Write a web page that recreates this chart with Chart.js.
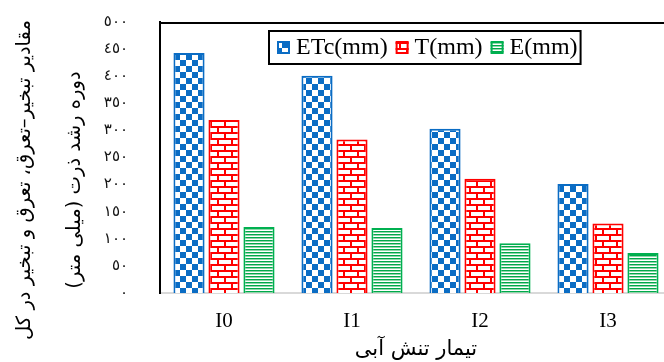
<!DOCTYPE html>
<html lang="fa">

<head>
    <meta charset="UTF-8">
    <title>ETc T E</title>
    <script src="https://cdn.jsdelivr.net/npm/chart.js"></script>
    <style>
        html, body { margin: 0; padding: 0; background: #fff; overflow: hidden; }
        #quadro { width: 664px; height: 362px; overflow: hidden; }
    </style>
</head>

<body>
    <div id="quadro">
        <canvas id="grafico" width="672" height="362"></canvas>
    </div>
</body>

</html>
<script>

    var tratamentos = ['I0', 'I1', 'I2', 'I3']
    var etc = [443, 401, 303, 201]     // ETc(mm)
    var transp = [319, 283, 211, 128]  // T(mm)
    var evap = [122, 120, 92, 74]      // E(mm)
    var nomesSeries = ['ETc(mm)', 'T(mm)', 'E(mm)']

    var yTicks = [0, 50, 100, 150, 200, 250, 300, 350, 400, 450, 500]
    var yTickLabels = ['٠', '٥٠', '١٠٠', '١٥٠', '٢٠٠', '٢٥٠', '٣٠٠', '٣٥٠', '٤٠٠', '٤٥٠', '٥٠٠']

    var tituloY = ['مقادیر تبخیر–تعرق، تعرق و تبخیر در کل', 'دوره رشد ذرت (میلی متر)']
    var tituloX = 'تیمار تنش آبی'

    var RLM = '\u200F'

    // padroes de preenchimento das barras
    function novoPadrao(w, h, desenha) {
        var c = document.createElement('canvas')
        c.width = w
        c.height = h
        var x = c.getContext('2d')
        x.fillStyle = '#fff'
        x.fillRect(0, 0, w, h)
        desenha(x)
        return x.createPattern(c, 'repeat')
    }

    var padraoXadrez = novoPadrao(12, 12, function (x) {
        x.fillStyle = '#0a6cc4'
        x.fillRect(0, 0, 6, 6)
        x.fillRect(6, 6, 6, 6)
    })

    var padraoTijolo = novoPadrao(14, 12, function (x) {
        x.fillStyle = '#ff0000'
        x.fillRect(0, 0, 14, 2)
        x.fillRect(0, 6, 14, 2)
        x.fillRect(0, 2, 2, 4)
        x.fillRect(7, 8, 2, 4)
    })

    var padraoListras = novoPadrao(4, 3, function (x) {
        x.fillStyle = '#00a84a'
        x.fillRect(0, 0, 4, 1)
        x.fillStyle = '#8fd6aa'
        x.fillRect(0, 1, 4, 1)
    })

    // linha de cima do quadro + titulo do eixo y
    var molduraPlugin = {
        id: 'moldura',
        afterDraw: function (chart) {
            var ctx = chart.ctx
            var area = chart.chartArea
            ctx.save()
            ctx.strokeStyle = '#000'
            ctx.lineWidth = 2
            ctx.beginPath()
            ctx.moveTo(area.left - 1, area.top + 1)
            ctx.lineTo(area.right, area.top + 1)
            ctx.stroke()

            // titulo vertical em duas linhas
            ctx.fillStyle = '#000'
            ctx.textAlign = 'center'
            ctx.textBaseline = 'middle'
            ctx.font = '20px "DejaVu Sans"'
            var medida = ctx.measureText(RLM + tituloY[0] + RLM).width
            var tam = Math.max(12, Math.min(24, 20 * 320 / medida))
            ctx.font = tam.toFixed(1) + 'px "DejaVu Sans"'
            var xs = [25, 75]
            for (var i = 0; i < tituloY.length; i++) {
                ctx.save()
                ctx.translate(xs[i], 180)
                ctx.rotate(-Math.PI / 2)
                ctx.fillText(RLM + tituloY[i] + RLM, 0, 0)
                ctx.restore()
            }
            ctx.restore()
        }
    }

    // legenda com caixa, dentro da area do grafico
    var legendaPlugin = {
        id: 'legendaCaixa',
        afterDraw: function (chart) {
            var ctx = chart.ctx
            var ds = chart.data.datasets
            ctx.save()
            ctx.font = '24px "Liberation Serif"'
            var x = 277
            var itens = []
            for (var i = 0; i < ds.length; i++) {
                var w = ctx.measureText(ds[i].label).width
                itens.push({ x: x, w: w })
                x = x + 19 + w + 8
            }
            var fim = x - 8 + 4
            ctx.fillStyle = '#fff'
            ctx.fillRect(268, 30, fim - 268, 35)
            ctx.strokeStyle = '#000'
            ctx.lineWidth = 2
            ctx.strokeRect(269, 31, fim - 270, 33)

            for (var j = 0; j < ds.length; j++) {
                var it = itens[j]
                ctx.fillStyle = ds[j].backgroundColor
                ctx.fillRect(it.x, 41, 13, 13)
                ctx.strokeStyle = ds[j].borderColor
                ctx.lineWidth = 2
                ctx.strokeRect(it.x + 1, 42, 11, 11)
                ctx.fillStyle = '#000'
                ctx.textBaseline = 'middle'
                ctx.textAlign = 'left'
                ctx.fillText(ds[j].label, it.x + 19, 48)
            }
            ctx.restore()
        }
    }

    const dados = {
        labels: tratamentos,
        datasets: [
            {
                label: nomesSeries[0],
                data: etc,
                backgroundColor: padraoXadrez,
                borderColor: '#0a6cc4',
                borderWidth: 2
            },
            {
                label: nomesSeries[1],
                data: transp,
                backgroundColor: padraoTijolo,
                borderColor: '#ff0000',
                borderWidth: 2
            },
            {
                label: nomesSeries[2],
                data: evap,
                backgroundColor: padraoListras,
                borderColor: '#00b050',
                borderWidth: 2
            }
        ]
    }

    const config = {
        type: 'bar',
        data: dados,
        options: {
            responsive: false,
            animation: false,
            devicePixelRatio: 1,
            barPercentage: 0.89,
            categoryPercentage: 0.82,
            layout: { padding: { top: 22, left: 0, right: 0, bottom: 0 } },
            plugins: {
                legend: { display: false },
                tooltip: { enabled: false }
            },
            scales: {
                x: {
                    grid: { display: false },
                    border: { color: '#d9d9d9', width: 2 },
                    ticks: {
                        color: '#000',
                        padding: 8,
                        font: { family: 'Liberation Serif', size: 21 }
                    },
                    title: {
                        display: true,
                        text: RLM + tituloX + RLM,
                        color: '#000',
                        font: { family: 'DejaVu Sans', size: 21 },
                        padding: { top: 0, bottom: 0 }
                    },
                    afterFit: function (s) { s.height = 69 }
                },
                y: {
                    min: 0,
                    max: 500,
                    grid: { display: false },
                    border: { color: '#000', width: 2 },
                    ticks: {
                        stepSize: 50,
                        padding: 24,
                        color: '#111',
                        font: { family: 'DejaVu Sans', size: 15 },
                        callback: function (v) {
                            var i = yTicks.indexOf(v)
                            return i >= 0 ? yTickLabels[i] : ''
                        }
                    },
                    afterFit: function (s) {
                        s.width = 160
                        s.paddingTop = 0
                        s.paddingBottom = 0
                    }
                }
            }
        },
        plugins: [molduraPlugin, legendaPlugin]
    }

    const grafico = new Chart(document.getElementById('grafico'), config)

</script>
